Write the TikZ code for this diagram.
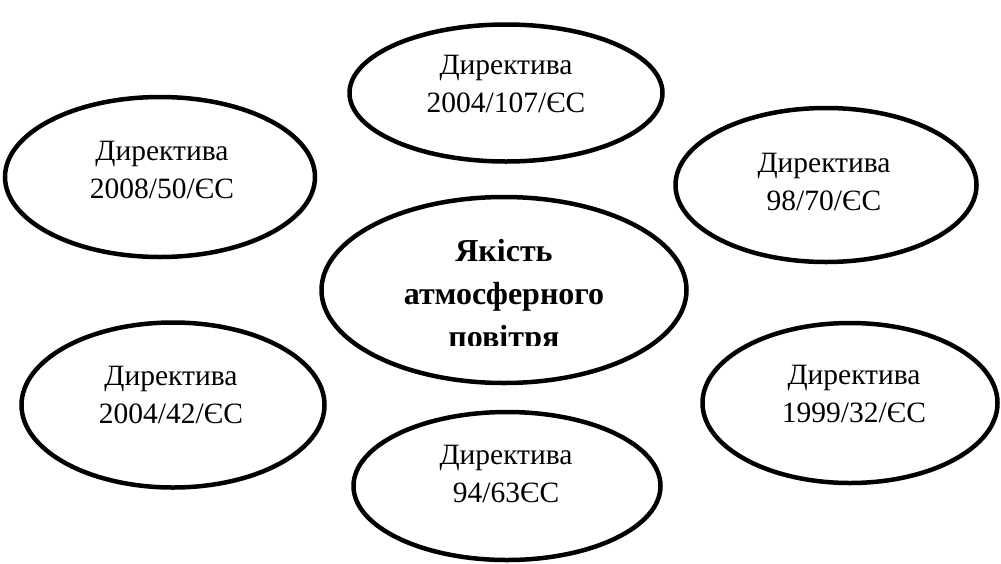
\documentclass[tikz,border=0pt]{standalone}
\usepackage{fontspec}
\setmainfont{Liberation Serif}
\usetikzlibrary{shapes.geometric}
\tikzset{
  dirbox/.style={ellipse,draw=black,line width=4.5pt,inner sep=0pt},
  dirtext/.style={align=center,inner sep=0pt,anchor=base,font=\fontsize{29.5}{38}\selectfont},
  maintext/.style={align=center,inner sep=0pt,anchor=base,font=\fontsize{32}{43}\selectfont\bfseries}
}
\begin{document}
\begin{tikzpicture}[x=1pt,y=-1pt]
  \useasboundingbox (0,0) rectangle (1001,563);
  % ellipses
  \node[dirbox,minimum width=313pt,minimum height=137pt] (d107) at (506,93) {};
  \node[dirbox,minimum width=310pt,minimum height=160pt] (d50) at (160,177) {};
  \node[dirbox,minimum width=301pt,minimum height=154pt] (d70) at (826,185) {};
  \node[dirbox,minimum width=365pt,minimum height=186pt] (air) at (504,290) {};
  \node[dirbox,minimum width=303pt,minimum height=165pt] (d42) at (173,405) {};
  \node[dirbox,minimum width=295pt,minimum height=160pt] (d32) at (850,403) {};
  \node[dirbox,minimum width=307pt,minimum height=148pt] (d63) at (507,486) {};
  % texts (base = last line)
  \node[dirtext] (t107) at (506,112) {Директива\\2004/107/ЄС};
  \node[dirtext] (t50) at (162,198) {Директива\\2008/50/ЄС};
  \node[dirtext] (t70) at (824,210) {Директива\\98/70/ЄС};
  \node[dirtext] (t42) at (171,423) {Директива\\2004/42/ЄС};
  \node[dirtext] (t32) at (854,422) {Директива\\1999/32/ЄС};
  \node[dirtext] (t63) at (506,502) {Директива\\94/63ЄС};
  \begin{scope}
    \clip (320,200) rectangle (690,345);
    \node[maintext] (tair) at (504,347) {Якість\\атмосферного\\повітря};
  \end{scope}
\end{tikzpicture}
\end{document}
